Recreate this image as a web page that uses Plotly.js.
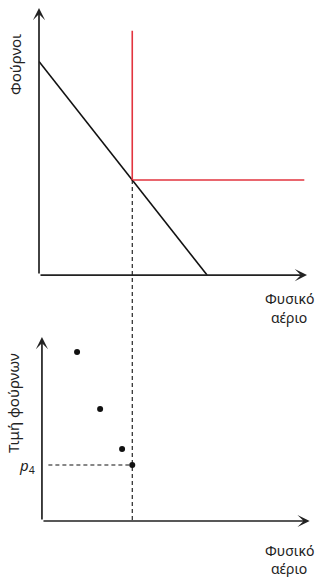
<!DOCTYPE html>
<html>
<head>
<meta charset="utf-8">
<script src="https://cdn.plot.ly/plotly-3.0.1.min.js"></script>
<style>html,body{margin:0;padding:0;background:#fff;}#chart{width:320px;height:577px;}</style>
</head>
<body>
<div id="chart"></div>
<script>
// ---- data ----
// top panel: demand for ovens (Φούρνοι) vs natural gas (Φυσικό αέριο)
const demandX = [0, 6.27];
const demandY = [8, 0];
// L-shaped (red) curve
const lX = [3.48, 3.48, 9.9];
const lY = [9.15, 3.56, 3.56];
// chosen quantity / level at the corner
const qStar = 3.48;
const pStar = 3.56;
// bottom panel: oven price points
const priceX = [1.42, 2.28, 3.10, 3.48];
const priceY = [9.18, 6.09, 3.91, 3.04];
const p4 = 3.04;
const axisLabelTopY = 'Φούρνοι';
const axisLabelBottomY = 'Τιμή φούρνων';
const axisLabelX = ['Φυσικό', 'αέριο'];
const p4Label = '<i>p</i><sub>4</sub>';

// ---- layout ----
const W = 320, H = 577;
const px = v => v / W;
const py = v => 1 - v / H;
const topYMin = -9.21;   // range extends down to the lower chart's axis
const font = {family: 'Noto Sans, DejaVu Sans, sans-serif', size: 14, color: '#222'};
const axisColor = '#222';

const traces = [
  {x: demandX, y: demandY, xaxis: 'x', yaxis: 'y', mode: 'lines',
   line: {color: '#111', width: 1.6}, hoverinfo: 'skip'},
  {x: lX, y: lY, xaxis: 'x', yaxis: 'y', mode: 'lines',
   line: {color: '#e2343f', width: 1.6}, hoverinfo: 'skip'},
  {x: [qStar, qStar], y: [pStar, topYMin], xaxis: 'x', yaxis: 'y', mode: 'lines',
   line: {color: '#111', width: 1.1, dash: '4px,3px'}, hoverinfo: 'skip'},
  {x: [0.35, qStar], y: [p4, p4], xaxis: 'x', yaxis: 'y2', mode: 'lines',
   line: {color: '#111', width: 1.1, dash: '4px,3px'}, hoverinfo: 'skip'},
  {x: priceX, y: priceY, xaxis: 'x', yaxis: 'y2', mode: 'markers',
   marker: {color: '#111', size: 6}, hoverinfo: 'skip'}
];

function arrow(x, y, ax, ay, yref) {
  return {x: x, y: y, ax: ax, ay: ay, xref: 'x', yref: yref, axref: 'x', ayref: yref,
    text: '', showarrow: true, arrowhead: 3, arrowsize: 1.2, arrowwidth: 1.7,
    arrowcolor: axisColor, standoff: 0, startstandoff: 0};
}
function label(text, x, y, angle, size) {
  return {text: text, x: px(x), y: py(y), xref: 'paper', yref: 'paper',
    showarrow: false, textangle: angle || 0, xanchor: 'center', yanchor: 'middle',
    font: Object.assign({}, font, size ? {size: size} : {})};
}

const layout = {
  width: W, height: H,
  margin: {l: 0, r: 0, t: 0, b: 0},
  paper_bgcolor: '#fff', plot_bgcolor: 'rgba(0,0,0,0)',
  showlegend: false,
  xaxis: {domain: [px(39), px(307)], range: [0, 10], visible: false, fixedrange: true},
  yaxis: {domain: [py(521), py(8)], range: [topYMin, 10], visible: false, fixedrange: true},
  yaxis2: {domain: [py(521), py(337)], range: [0, 10], visible: false, fixedrange: true, anchor: 'x'},
  annotations: [
    arrow(0, 10, 0, 0, 'y'),
    arrow(10, 0, 0, 0, 'y'),
    arrow(0.11, 10, 0.11, 0, 'y2'),
    arrow(10.1, 0, 0.11, 0, 'y2'),
    label(axisLabelTopY, 15, 65, -90, 15),
    label(axisLabelBottomY, 13, 403, -90, 15),
    label(axisLabelX[0], 289, 298),
    label(axisLabelX[1], 289, 317),
    label(axisLabelX[0], 289, 550),
    label(axisLabelX[1], 289, 568),
    label(p4Label, 27, 466, 0, 15)
  ]
};

Plotly.newPlot('chart', traces, layout, {staticPlot: true, displayModeBar: false});
</script>
</body>
</html>
